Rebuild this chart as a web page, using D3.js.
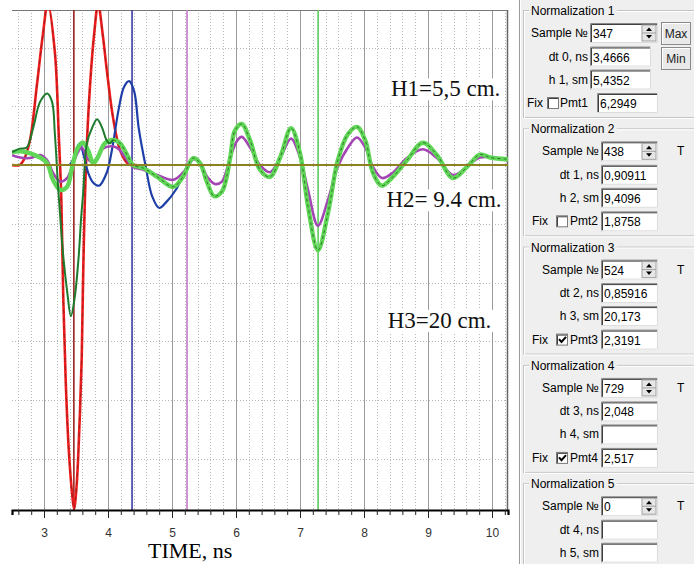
<!DOCTYPE html>
<html>
<head>
<meta charset="utf-8">
<script src="https://cdn.jsdelivr.net/npm/d3@7"></script>
<style>
  body { margin: 0; background: #fff; }
  svg { display: block; }
</style>
</head>
<body>
<svg id="chart" width="694" height="564"></svg>
<script>
// traces: [time ns, amplitude]
var redTrace = [[2.5,0],[2.62,0],[2.68,0.08],[2.78,0.42],[2.89,1.37],[2.98,2.2],[3.06,2.75],[3.17,1.92],[3.23,0.53],
    [3.27,-0.55],[3.30,-2.2],[3.34,-3.7],[3.39,-4.9],[3.44,-5.6],[3.47,-5.85],[3.51,-5.45],[3.555,-4.4],[3.59,-3.25],
    [3.615,-1.7],[3.655,-0.03],[3.72,1.37],[3.79,2.3],[3.845,2.75],[3.92,2.2],[3.98,1.63],[4.08,0.8],[4.19,0.25],
    [4.31,0.03],[4.45,0]];
var blueTrace = [[3.40,0],[3.47,0.12],[3.52,0.3],[3.56,0.37],[3.62,0.17],[3.69,-0.13],[3.77,-0.3],[3.86,-0.35],
    [3.98,-0.13],[4.06,0.25],[4.17,0.97],[4.25,1.33],[4.33,1.43],[4.41,1.25],[4.48,0.63],[4.59,-0.03],[4.69,-0.53],
    [4.80,-0.73],[4.91,-0.63],[5.06,-0.42],[5.19,-0.13],[5.31,0.08]];
var darkGreenHead = [[2.5,0.22],[2.62,0.28],[2.73,0.3],[2.83,0.63],[2.94,1.08],[3.05,1.22],[3.125,1.08],[3.17,0.53],
    [3.22,-0.37],[3.27,-1.13],[3.31,-1.65],[3.36,-2.13],[3.42,-2.57],[3.48,-2.25],[3.54,-1.58],[3.58,-0.9],[3.61,-0.5],
    [3.67,0.37],[3.75,0.63],[3.83,0.78],[3.91,0.63],[3.98,0.42],[4.03,0.37]];
var magentaTrace = [[2.5,0.17],[2.625,0.13],[2.78,0.12],[2.94,0.17],[3.05,0.08],[3.14,-0.13],[3.25,-0.28],[3.36,-0.22],
    [3.44,-0.03],[3.52,0.2],[3.59,0.3],[3.67,0.13],[3.75,0.05],[3.83,0.13],[3.92,0.28],[4.06,0.32],[4.16,0.28],
    [4.27,0.13],[4.39,-0.03],[4.55,-0.08],[4.77,-0.17],[5.02,-0.25],[5.17,-0.13],[5.33,0.1],[5.44,0.03],[5.55,-0.2],
    [5.67,-0.32],[5.78,-0.28],[5.91,0.13],[6.02,0.42],[6.09,0.48],[6.22,0.3],[6.375,0],[6.53,-0.12],[6.69,0.12],
    [6.86,0.45],[7.0,0.13],[7.125,-0.42],[7.28,-1.03],[7.44,-0.58],[7.59,-0.03],[7.75,0.3],[7.89,0.47],[8.02,0.3],
    [8.14,-0.03],[8.28,-0.22],[8.45,-0.13],[8.67,0.12],[8.92,0.27],[9.14,0.12],[9.39,-0.17],[9.61,-0.03],[9.81,0.13],
    [10.25,0.08]];
var limeTrace = [[2.5,0.22],[2.67,0.23],[2.94,0.13],[3.05,0.03],[3.14,-0.25],[3.25,-0.42],[3.36,-0.37],[3.44,-0.03],
    [3.53,0.3],[3.61,0.38],[3.69,0.25],[3.77,0.03],[3.84,0.13],[3.95,0.37],[4.08,0.43],[4.19,0.37],[4.30,0.17],
    [4.39,0],[4.55,-0.05],[4.77,-0.2],[5.02,-0.37],[5.17,-0.2],[5.33,0.12],[5.44,0.03],[5.55,-0.3],[5.66,-0.53],
    [5.78,-0.45],[5.91,0.13],[5.98,0.58],[6.09,0.7],[6.22,0.42],[6.375,-0.08],[6.53,-0.2],[6.69,0.13],[6.86,0.63],
    [7.0,0.2],[7.125,-0.7],[7.28,-1.45],[7.44,-0.8],[7.59,0.08],[7.75,0.53],[7.89,0.65],[8.02,0.42],[8.14,-0.13],
    [8.28,-0.35],[8.45,-0.2],[8.67,0.08],[8.92,0.38],[9.14,0.17],[9.39,-0.22],[9.61,-0.03],[9.81,0.18],[9.97,0.13],
    [10.25,0.1]];

var xTicks = [3, 4, 5, 6, 7, 8, 9, 10];
var heightLabels = ["H1=5,5 cm.", "H2= 9.4 cm.", "H3=20 cm."];
var heightLabelPos = [[8.42, 1.17], [8.35, -0.72], [8.37, -2.77]];

// normalization panel
var sampleNums = ["347", "438", "524", "729", "0"];
var dtValues = ["3,4666", "0,90911", "0,85916", "2,048", ""];
var hValues = ["5,4352", "9,4096", "20,173", "", ""];
var pmtValues = ["6,2949", "1,8758", "2,3191", "2,517"];
var pmtChecked = [false, false, true, true];

var svg = d3.select("#chart");
var x = d3.scaleLinear().domain([2.5, 10.25]).range([12, 508]);
var y = d3.scaleLinear().domain([-5.87, 2.64]).range([510, 10]);

// markers = cumulative dt
var markers = [];
var acc = 0;
for (var i = 0; i < 4; i++) {
    acc += +dtValues[i].replace(",", ".");
    markers.push(acc);
}
var markerColors = ["#9a2020", "#3b3ba0", "#c47ac8", "#5ccc5c"];

// grid
var minor = d3.range(13, 52).map(function(k) { return k / 5; });
svg.append("g").selectAll("line").data(minor.filter(function(d) { return Math.abs(d - Math.round(d)) > 0.01; }))
    .enter().append("line")
    .attr("x1", function(d) { return Math.round(x(d)) + 0.5; })
    .attr("x2", function(d) { return Math.round(x(d)) + 0.5; })
    .attr("y1", 10).attr("y2", 510)
    .attr("stroke", "#b8b8b8").attr("stroke-dasharray", "1,2");
svg.append("g").selectAll("line").data(d3.range(-5, 3))
    .enter().append("line")
    .attr("x1", 12).attr("x2", 508)
    .attr("y1", function(d) { return Math.round(y(d)) + 0.5; })
    .attr("y2", function(d) { return Math.round(y(d)) + 0.5; })
    .attr("stroke", "#b8b8b8").attr("stroke-dasharray", "1,2");
svg.append("g").selectAll("line").data(xTicks)
    .enter().append("line")
    .attr("x1", function(d) { return Math.round(x(d)) + 0.5; })
    .attr("x2", function(d) { return Math.round(x(d)) + 0.5; })
    .attr("y1", 10).attr("y2", 510)
    .attr("stroke", "#9a9a9a");

// frame
svg.append("line").attr("x1", 12).attr("x2", 508).attr("y1", 10.5).attr("y2", 10.5).attr("stroke", "#777");
svg.append("line").attr("x1", 507.5).attr("x2", 507.5).attr("y1", 10).attr("y2", 510).attr("stroke", "#666").attr("stroke-width", 1.5);

// marker lines
svg.append("g").selectAll("line").data(markers)
    .enter().append("line")
    .attr("x1", function(d) { return x(d); })
    .attr("x2", function(d) { return x(d); })
    .attr("y1", 10).attr("y2", 510)
    .attr("stroke", function(d, i) { return markerColors[i]; })
    .attr("stroke-width", 1.6);

svg.append("clipPath").attr("id", "plotclip")
    .append("rect").attr("x", 12).attr("y", 10).attr("width", 496).attr("height", 500);

var line = d3.line()
    .x(function(d) { return x(d[0]); })
    .y(function(d) { return y(d[1]); })
    .curve(d3.curveCatmullRom.alpha(0.5));

var plot = svg.append("g").attr("clip-path", "url(#plotclip)");

var darkGreenTail = limeTrace.filter(function(d) { return d[0] >= 4.08; });

plot.append("path").attr("d", line(redTrace)).attr("fill", "none").attr("stroke", "#ee1c1c").attr("stroke-width", 2.6);
plot.append("path").attr("d", line(redTrace)).attr("fill", "none").attr("stroke", "#8a2020").attr("stroke-width", 0.8).attr("stroke-dasharray", "4,4");
plot.append("path").attr("d", line(blueTrace)).attr("fill", "none").attr("stroke", "#1f3fa8").attr("stroke-width", 2.2);
plot.append("path").attr("d", line(magentaTrace)).attr("fill", "none").attr("stroke", "#a445b4").attr("stroke-width", 2.6);
plot.append("path").attr("d", line(limeTrace)).attr("fill", "none").attr("stroke", "#5fd655").attr("stroke-width", 4.4);
plot.append("path").attr("d", line(darkGreenHead.concat(darkGreenTail.slice(0, 1)))).attr("fill", "none").attr("stroke", "#1d7a2c").attr("stroke-width", 2);
plot.append("path").attr("d", line(darkGreenTail)).attr("fill", "none").attr("stroke", "#2c6a2c").attr("stroke-width", 0.9).attr("stroke-dasharray", "3,3");

// baseline
svg.append("line").attr("x1", 12).attr("x2", 508).attr("y1", y(0)).attr("y2", y(0))
    .attr("stroke", "#8c8222").attr("stroke-width", 2);

// axis
var axisG = svg.append("g").attr("transform", "translate(0,510)");
axisG.call(d3.axisBottom(x).tickValues(minor).tickSize(5).tickFormat(""));
axisG.selectAll(".tick line").attr("stroke", "#222");
var majorG = svg.append("g").attr("transform", "translate(0,510)")
    .call(d3.axisBottom(x).tickValues(xTicks).tickSize(8).tickPadding(10).tickFormat(d3.format("d")));
majorG.select(".domain").remove();
majorG.selectAll(".tick line").attr("stroke", "#222");
majorG.selectAll("text").attr("font-family", "Liberation Sans, Arial, sans-serif").attr("font-size", 12).attr("fill", "#333");
axisG.select(".domain").attr("stroke", "#000").attr("stroke-width", 2.2);

svg.append("text").attr("x", 148).attr("y", 558)
    .attr("font-family", "Liberation Serif, Times New Roman, serif").attr("font-size", 22)
    .text("TIME, ns");

// height labels with white boxes
heightLabels.forEach(function(t, i) {
    var g = svg.append("g");
    var box = g.append("rect").attr("fill", "#fff");
    var tx = g.append("text").attr("x", x(heightLabelPos[i][0])).attr("y", y(heightLabelPos[i][1]))
        .attr("font-family", "Liberation Serif, Times New Roman, serif").attr("font-size", 23).attr("fill", "#111").text(t);
    var bb = tx.node().getBBox();
    box.attr("x", bb.x - 2).attr("y", bb.y + 2).attr("width", bb.width + 4).attr("height", bb.height - 3);
});

// right panel
var px = 519;
var uiFont = "Liberation Sans, Arial, sans-serif";
svg.append("rect").attr("x", px).attr("y", 0).attr("width", 694 - px).attr("height", 564).attr("fill", "#efefef");
svg.append("line").attr("x1", px + 0.5).attr("x2", px + 0.5).attr("y1", 0).attr("y2", 564).attr("stroke", "#9a9a9a");
svg.append("line").attr("x1", px + 1.5).attr("x2", px + 1.5).attr("y1", 0).attr("y2", 564).attr("stroke", "#fff");

function uiText(tx, ty, s, anchor) {
    return svg.append("text").attr("x", tx).attr("y", ty).attr("font-family", uiFont).attr("font-size", 12)
        .attr("text-anchor", anchor || "start").attr("fill", "#000").text(s);
}
function inputBox(bx, by, bw, val) {
    svg.append("rect").attr("x", bx).attr("y", by).attr("width", bw).attr("height", 20).attr("fill", "#fff");
    svg.append("path").attr("d", "M" + (bx + 0.5) + "," + (by + 20) + "V" + (by + 0.5) + "H" + (bx + bw))
        .attr("fill", "none").attr("stroke", "#8a8a8a");
    svg.append("path").attr("d", "M" + (bx + 1.5) + "," + (by + 19) + "V" + (by + 1.5) + "H" + (bx + bw - 1))
        .attr("fill", "none").attr("stroke", "#404040");
    svg.append("path").attr("d", "M" + bx + "," + (by + 19.5) + "H" + (bx + bw - 0.5) + "V" + by)
        .attr("fill", "none").attr("stroke", "#dcdcdc");
    uiText(bx + 3, by + 15, val);
}
function spinner(sx, sy) {
    svg.append("rect").attr("x", sx).attr("y", sy).attr("width", 14).attr("height", 16).attr("fill", "#e6e6e6").attr("stroke", "#a0a0a0");
    svg.append("line").attr("x1", sx).attr("x2", sx + 14).attr("y1", sy + 8).attr("y2", sy + 8).attr("stroke", "#a0a0a0");
    svg.append("path").attr("d", "M" + (sx + 4) + "," + (sy + 6) + "l3,-3.5l3,3.5z").attr("fill", "#000");
    svg.append("path").attr("d", "M" + (sx + 4) + "," + (sy + 10) + "l3,3.5l3,-3.5z").attr("fill", "#000");
}
function button(bx, by, bw, bh, s) {
    svg.append("rect").attr("x", bx + 0.5).attr("y", by + 0.5).attr("width", bw).attr("height", bh).attr("fill", "#e9e9e9").attr("stroke", "#8a8a8a");
    svg.append("path").attr("d", "M" + (bx + 1.5) + "," + (by + bh) + "V" + (by + 1.5) + "H" + (bx + bw)).attr("fill", "none").attr("stroke", "#fff");
    uiText(bx + bw / 2 + 0.5, by + bh / 2 + 5, s, "middle").attr("fill", "#222");
}
function checkbox(cx, cy, on) {
    svg.append("rect").attr("x", cx + 0.5).attr("y", cy + 0.5).attr("width", 11).attr("height", 11).attr("fill", "#fff").attr("stroke", "#7a7a7a");
    svg.append("path").attr("d", "M" + (cx + 1.5) + "," + (cy + 11) + "V" + (cy + 1.5) + "H" + (cx + 11)).attr("fill", "none").attr("stroke", "#404040");
    if (on) {
        svg.append("path").attr("d", "M" + (cx + 3) + "," + (cy + 5.5) + "l2.5,2.8l4.5,-5")
            .attr("fill", "none").attr("stroke", "#000").attr("stroke-width", 2);
    }
}

var rowOff = [23, 46.5, 69.5, 93];
sampleNums.forEach(function(s, i) {
    var gy = 10 + 118.3 * i;
    var first = i === 0;
    var labR = first ? 588 : 599;
    var inX = first ? 590 : 601;
    var inW = first ? 68 : 57;
    var inW2 = first ? 61 : 57;

    // group box
    svg.append("rect").attr("x", 523.5).attr("y", gy + 0.5).attr("width", 200).attr("height", 107).attr("fill", "none").attr("stroke", "#c4c4c4");
    svg.append("rect").attr("x", 524.5).attr("y", gy + 1.5).attr("width", 200).attr("height", 107).attr("fill", "none").attr("stroke", "#fff");
    var titleBg = svg.append("rect").attr("fill", "#efefef");
    var title = uiText(531, gy + 5, "Normalization " + (i + 1));
    var tb = title.node().getBBox();
    titleBg.attr("x", tb.x - 2).attr("y", gy - 2).attr("width", tb.width + 4).attr("height", 5);

    var r0 = gy + rowOff[0];
    uiText(labR, r0 + 4, "Sample \u2116", "end");
    inputBox(inX, r0 - 10, inW, s);
    spinner(inX + inW - 16, r0 - 8);
    if (first) {
        button(661, gy + 12, 29, 22, "Max");
        button(661, gy + 37, 29, 22, "Min");
    } else {
        uiText(677, r0 + 4, "T");
    }

    var r1 = gy + rowOff[1];
    uiText(labR, r1 + 4, "dt " + i + ", ns", "end");
    inputBox(inX, r1 - 10, inW2, dtValues[i]);

    var r2 = gy + rowOff[2];
    uiText(labR, r2 + 4, "h " + (i + 1) + ", sm", "end");
    inputBox(inX, r2 - 10, inW2, hValues[i]);

    if (i < pmtValues.length) {
        var r3 = gy + rowOff[3];
        uiText(first ? 527 : 532, r3 + 4, "Fix");
        checkbox(first ? 547 : 556, r3 - 6, pmtChecked[i]);
        uiText(first ? 560 : 570, r3 + 4, "Pmt" + (i + 1));
        inputBox(first ? 597 : 601, r3 - 10, first ? 61 : 57, pmtValues[i]);
    }
});
</script>
</body>
</html>
